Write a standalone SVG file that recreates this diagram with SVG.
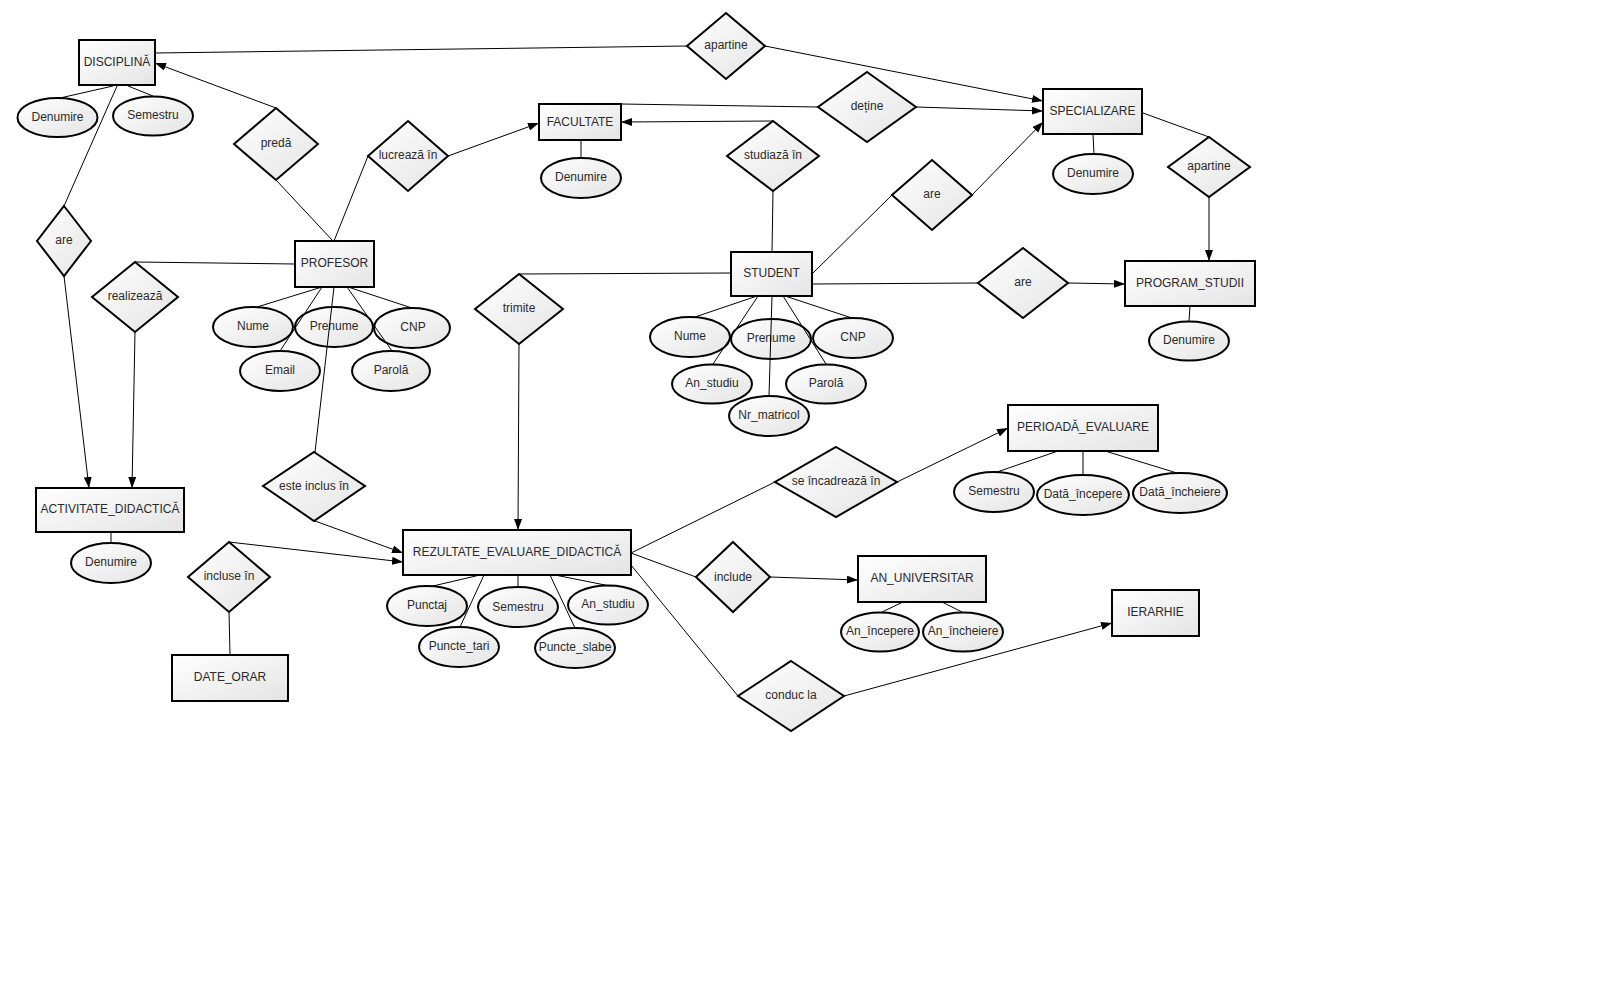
<svg xmlns="http://www.w3.org/2000/svg" width="1600" height="1000" viewBox="0 0 1600 1000">
<defs>
  <linearGradient id="g" x1="0" y1="0" x2="1" y2="1">
    <stop offset="0" stop-color="#ffffff"/>
    <stop offset="1" stop-color="#e4e4e4"/>
  </linearGradient>
  <marker id="arr" markerUnits="userSpaceOnUse" markerWidth="12" markerHeight="9" refX="11" refY="4" orient="auto">
    <path d="M0,0 L11,4 L0,8 z" fill="#000"/>
  </marker>
</defs>
<style>
  .n rect, .n polygon, .n ellipse { fill: url(#g); stroke: #000; stroke-width: 2; }
  text { font-family: "Liberation Sans", Arial, sans-serif; font-size: 12px; fill: #2a2a2a; text-anchor: middle; dominant-baseline: central; }
  #connectors line { stroke: #000; stroke-width: 1; fill: none; }
  #connectors line.a { marker-end: url(#arr); }
</style>
<rect width="1600" height="1000" fill="#fff"/>

<!-- Entities -->
<g id="disciplina" class="n"><rect x="79" y="40" width="76" height="45"/><text x="117" y="62">DISCIPLINĂ</text></g>
<g id="facultate" class="n"><rect x="539" y="104" width="82" height="36"/><text x="580" y="122">FACULTATE</text></g>
<g id="specializare" class="n"><rect x="1043" y="89" width="99" height="45"/><text x="1092.5" y="111">SPECIALIZARE</text></g>
<g id="profesor" class="n"><rect x="295" y="241" width="79" height="46"/><text x="334.5" y="263">PROFESOR</text></g>
<g id="student" class="n"><rect x="731" y="252" width="81" height="44"/><text x="771.5" y="273">STUDENT</text></g>
<g id="program_studii" class="n"><rect x="1125" y="261" width="130" height="45"/><text x="1190" y="283">PROGRAM_STUDII</text></g>
<g id="perioada_evaluare" class="n"><rect x="1008" y="405" width="150" height="46"/><text x="1083" y="427">PERIOADĂ_EVALUARE</text></g>
<g id="activitate_didactica" class="n"><rect x="36" y="488" width="148" height="44"/><text x="110" y="509">ACTIVITATE_DIDACTICĂ</text></g>
<g id="rezultate" class="n"><rect x="403" y="530" width="228" height="45"/><text x="517" y="552">REZULTATE_EVALUARE_DIDACTICĂ</text></g>
<g id="an_universitar" class="n"><rect x="858" y="556" width="128" height="46"/><text x="922" y="578">AN_UNIVERSITAR</text></g>
<g id="ierarhie" class="n"><rect x="1112" y="590" width="87" height="46"/><text x="1155.5" y="612">IERARHIE</text></g>
<g id="date_orar" class="n"><rect x="172" y="655" width="116" height="46"/><text x="230" y="677">DATE_ORAR</text></g>

<!-- Relationships -->
<g id="r_apartine1" class="n"><polygon points="726,13 765,46 726,79 687,46"/><text x="726" y="45">apartine</text></g>
<g id="r_detine" class="n"><polygon points="867,72 916,107 867,142 818,107"/><text x="867" y="106">deține</text></g>
<g id="r_preda" class="n"><polygon points="276,108 318,144 276,180 234,144"/><text x="276" y="143">predă</text></g>
<g id="r_lucreaza" class="n"><polygon points="408,121 448,156 408,191 368,156"/><text x="408" y="155">lucrează în</text></g>
<g id="r_studiaza" class="n"><polygon points="773,121 819,156 773,191 727,156"/><text x="773" y="155">studiază în</text></g>
<g id="r_are_spec" class="n"><polygon points="932,160 972,195 932,230 892,195"/><text x="932" y="194">are</text></g>
<g id="r_apartine2" class="n"><polygon points="1209,137 1250,167 1209,197 1168,167"/><text x="1209" y="166">apartine</text></g>
<g id="r_are_disc" class="n"><polygon points="64,206 91,241 64,276 37,241"/><text x="64" y="240">are</text></g>
<g id="r_realizeaza" class="n"><polygon points="135,262 178,297 135,332 92,297"/><text x="135" y="296">realizează</text></g>
<g id="r_trimite" class="n"><polygon points="519,274 563,309 519,344 475,309"/><text x="519" y="308">trimite</text></g>
<g id="r_are_prog" class="n"><polygon points="1023,248 1068,283 1023,318 978,283"/><text x="1023" y="282">are</text></g>
<g id="r_este_inclus" class="n"><polygon points="314,452 365,486 314,521 263,486"/><text x="314" y="486">este inclus în</text></g>
<g id="r_incadreaza" class="n"><polygon points="836,447 897,482 836,517 775,482"/><text x="836" y="481">se încadrează în</text></g>
<g id="r_incluse" class="n"><polygon points="229,542 270,577 229,612 188,577"/><text x="229" y="576">incluse în</text></g>
<g id="r_include" class="n"><polygon points="733,542 770,577 733,612 696,577"/><text x="733" y="577">include</text></g>
<g id="r_conduc" class="n"><polygon points="791,661 844,696 791,731 738,696"/><text x="791" y="695">conduc la</text></g>

<!-- Attributes -->
<g id="a_disc_denumire" class="n"><ellipse cx="57.5" cy="117.5" rx="40" ry="19.5"/><text x="57.5" y="117">Denumire</text></g>
<g id="a_disc_semestru" class="n"><ellipse cx="153" cy="116" rx="40" ry="19.5"/><text x="153" y="115">Semestru</text></g>
<g id="a_fac_denumire" class="n"><ellipse cx="581" cy="178" rx="40" ry="20"/><text x="581" y="177">Denumire</text></g>
<g id="a_spec_denumire" class="n"><ellipse cx="1093" cy="174" rx="40" ry="20"/><text x="1093" y="173">Denumire</text></g>
<g id="a_ps_denumire" class="n"><ellipse cx="1189" cy="341" rx="40" ry="19.5"/><text x="1189" y="340">Denumire</text></g>

<g id="a_prof_nume" class="n"><ellipse cx="253" cy="327" rx="40" ry="20"/><text x="253" y="326">Nume</text></g>
<g id="a_prof_prenume" class="n"><ellipse cx="334" cy="327" rx="39" ry="20"/><text x="334" y="326">Prenume</text></g>
<g id="a_prof_cnp" class="n"><ellipse cx="412" cy="328" rx="38" ry="20"/><text x="413" y="327">CNP</text></g>
<g id="a_prof_email" class="n"><ellipse cx="280" cy="371" rx="40" ry="20"/><text x="280" y="370">Email</text></g>
<g id="a_prof_parola" class="n"><ellipse cx="391" cy="371" rx="39" ry="20"/><text x="391" y="370">Parolă</text></g>

<g id="a_stu_nume" class="n"><ellipse cx="690" cy="337" rx="40" ry="20"/><text x="690" y="336">Nume</text></g>
<g id="a_stu_prenume" class="n"><ellipse cx="771" cy="339" rx="40" ry="20"/><text x="771" y="338">Prenume</text></g>
<g id="a_stu_cnp" class="n"><ellipse cx="853" cy="338" rx="40" ry="20"/><text x="853" y="337">CNP</text></g>
<g id="a_stu_an" class="n"><ellipse cx="712" cy="384" rx="40" ry="19.5"/><text x="712" y="383">An_studiu</text></g>
<g id="a_stu_parola" class="n"><ellipse cx="826" cy="384" rx="40" ry="19.5"/><text x="826" y="383">Parolă</text></g>
<g id="a_stu_nr" class="n"><ellipse cx="769" cy="416" rx="40" ry="20"/><text x="769" y="415">Nr_matricol</text></g>

<g id="a_act_denumire" class="n"><ellipse cx="111" cy="563" rx="40" ry="20"/><text x="111" y="562">Denumire</text></g>

<g id="a_rez_punctaj" class="n"><ellipse cx="427" cy="606" rx="40" ry="20"/><text x="427" y="605">Punctaj</text></g>
<g id="a_rez_semestru" class="n"><ellipse cx="518" cy="607" rx="40" ry="20"/><text x="518" y="607">Semestru</text></g>
<g id="a_rez_an" class="n"><ellipse cx="608" cy="605" rx="40" ry="19.5"/><text x="608" y="604">An_studiu</text></g>
<g id="a_rez_tari" class="n"><ellipse cx="459" cy="647" rx="40" ry="20"/><text x="459" y="646">Puncte_tari</text></g>
<g id="a_rez_slabe" class="n"><ellipse cx="575" cy="648" rx="40" ry="20"/><text x="575" y="647">Puncte_slabe</text></g>

<g id="a_per_semestru" class="n"><ellipse cx="994" cy="492" rx="40" ry="20"/><text x="994" y="491">Semestru</text></g>
<g id="a_per_inceput" class="n"><ellipse cx="1083" cy="495" rx="46" ry="20"/><text x="1083" y="494">Dată_începere</text></g>
<g id="a_per_sfarsit" class="n"><ellipse cx="1180" cy="493" rx="47" ry="20"/><text x="1180" y="492">Dată_încheiere</text></g>

<g id="a_an_inceput" class="n"><ellipse cx="880" cy="632" rx="39" ry="19.5"/><text x="880" y="631">An_începere</text></g>
<g id="a_an_sfarsit" class="n"><ellipse cx="963" cy="632" rx="40" ry="19.5"/><text x="963" y="631">An_încheiere</text></g>

<!-- Connectors -->
<g id="connectors">
  <line x1="155" y1="53" x2="687" y2="46"/>
  <line class="a" x1="765" y1="46" x2="1043" y2="101"/>
  <line x1="621" y1="104" x2="818" y2="107"/>
  <line class="a" x1="916" y1="107" x2="1043" y2="111"/>
  <line class="a" x1="773" y1="121" x2="621" y2="122"/>
  <line x1="773" y1="191" x2="772" y2="252"/>
  <line x1="813" y1="273" x2="892" y2="195"/>
  <line class="a" x1="972" y1="195" x2="1043" y2="122"/>
  <line x1="1143" y1="113" x2="1209" y2="137"/>
  <line class="a" x1="1209" y1="197" x2="1209" y2="261"/>
  <line x1="813" y1="284" x2="978" y2="283"/>
  <line class="a" x1="1068" y1="283" x2="1125" y2="284"/>
  <line class="a" x1="276" y1="108" x2="155" y2="63"/>
  <line x1="276" y1="180" x2="333" y2="241"/>
  <line x1="334" y1="241" x2="368" y2="156"/>
  <line class="a" x1="448" y1="156" x2="539" y2="123"/>
  <line x1="117" y1="86" x2="64" y2="206"/>
  <line class="a" x1="64" y1="276" x2="89" y2="488"/>
  <line x1="135" y1="262" x2="295" y2="264"/>
  <line class="a" x1="135" y1="332" x2="132" y2="488"/>
  <line x1="731" y1="273" x2="519" y2="274"/>
  <line class="a" x1="519" y1="344" x2="518" y2="530"/>
  <line x1="334" y1="287" x2="315" y2="452"/>
  <line class="a" x1="315" y1="521" x2="403" y2="553"/>
  <line class="a" x1="229" y1="542" x2="403" y2="562"/>
  <line x1="229" y1="612" x2="230" y2="655"/>
  <line x1="631" y1="553" x2="775" y2="482"/>
  <line class="a" x1="897" y1="482" x2="1008" y2="428"/>
  <line x1="631" y1="553" x2="696" y2="577"/>
  <line class="a" x1="770" y1="577" x2="858" y2="580"/>
  <line x1="631" y1="565" x2="738" y2="696"/>
  <line class="a" x1="844" y1="696" x2="1112" y2="623"/>

  <line x1="113" y1="86" x2="60" y2="98"/>
  <line x1="128" y1="86" x2="153" y2="96"/>
  <line x1="581" y1="140" x2="581" y2="158"/>
  <line x1="1093" y1="134" x2="1094" y2="154"/>
  <line x1="1190" y1="306" x2="1189" y2="321"/>

  <line x1="322" y1="287" x2="257" y2="307"/>
  <line x1="322" y1="287" x2="280" y2="351"/>
  <line x1="347" y1="287" x2="392" y2="351"/>
  <line x1="348" y1="287" x2="412" y2="308"/>

  <line x1="757" y1="296" x2="695" y2="317"/>
  <line x1="758" y1="296" x2="713" y2="364"/>
  <line x1="772" y1="296" x2="769" y2="396"/>
  <line x1="783" y1="296" x2="826" y2="364"/>
  <line x1="785" y1="296" x2="852" y2="318"/>

  <line x1="111" y1="532" x2="111" y2="543"/>

  <line x1="480" y1="575" x2="433" y2="586"/>
  <line x1="484" y1="575" x2="460" y2="627"/>
  <line x1="518" y1="575" x2="518" y2="587"/>
  <line x1="550" y1="575" x2="575" y2="628"/>
  <line x1="555" y1="575" x2="610" y2="586"/>

  <line x1="1058" y1="451" x2="997" y2="472"/>
  <line x1="1083" y1="451" x2="1083" y2="475"/>
  <line x1="1105" y1="451" x2="1177" y2="473"/>

  <line x1="903" y1="602" x2="882" y2="612"/>
  <line x1="942" y1="602" x2="962" y2="612"/>
</g>
</svg>
